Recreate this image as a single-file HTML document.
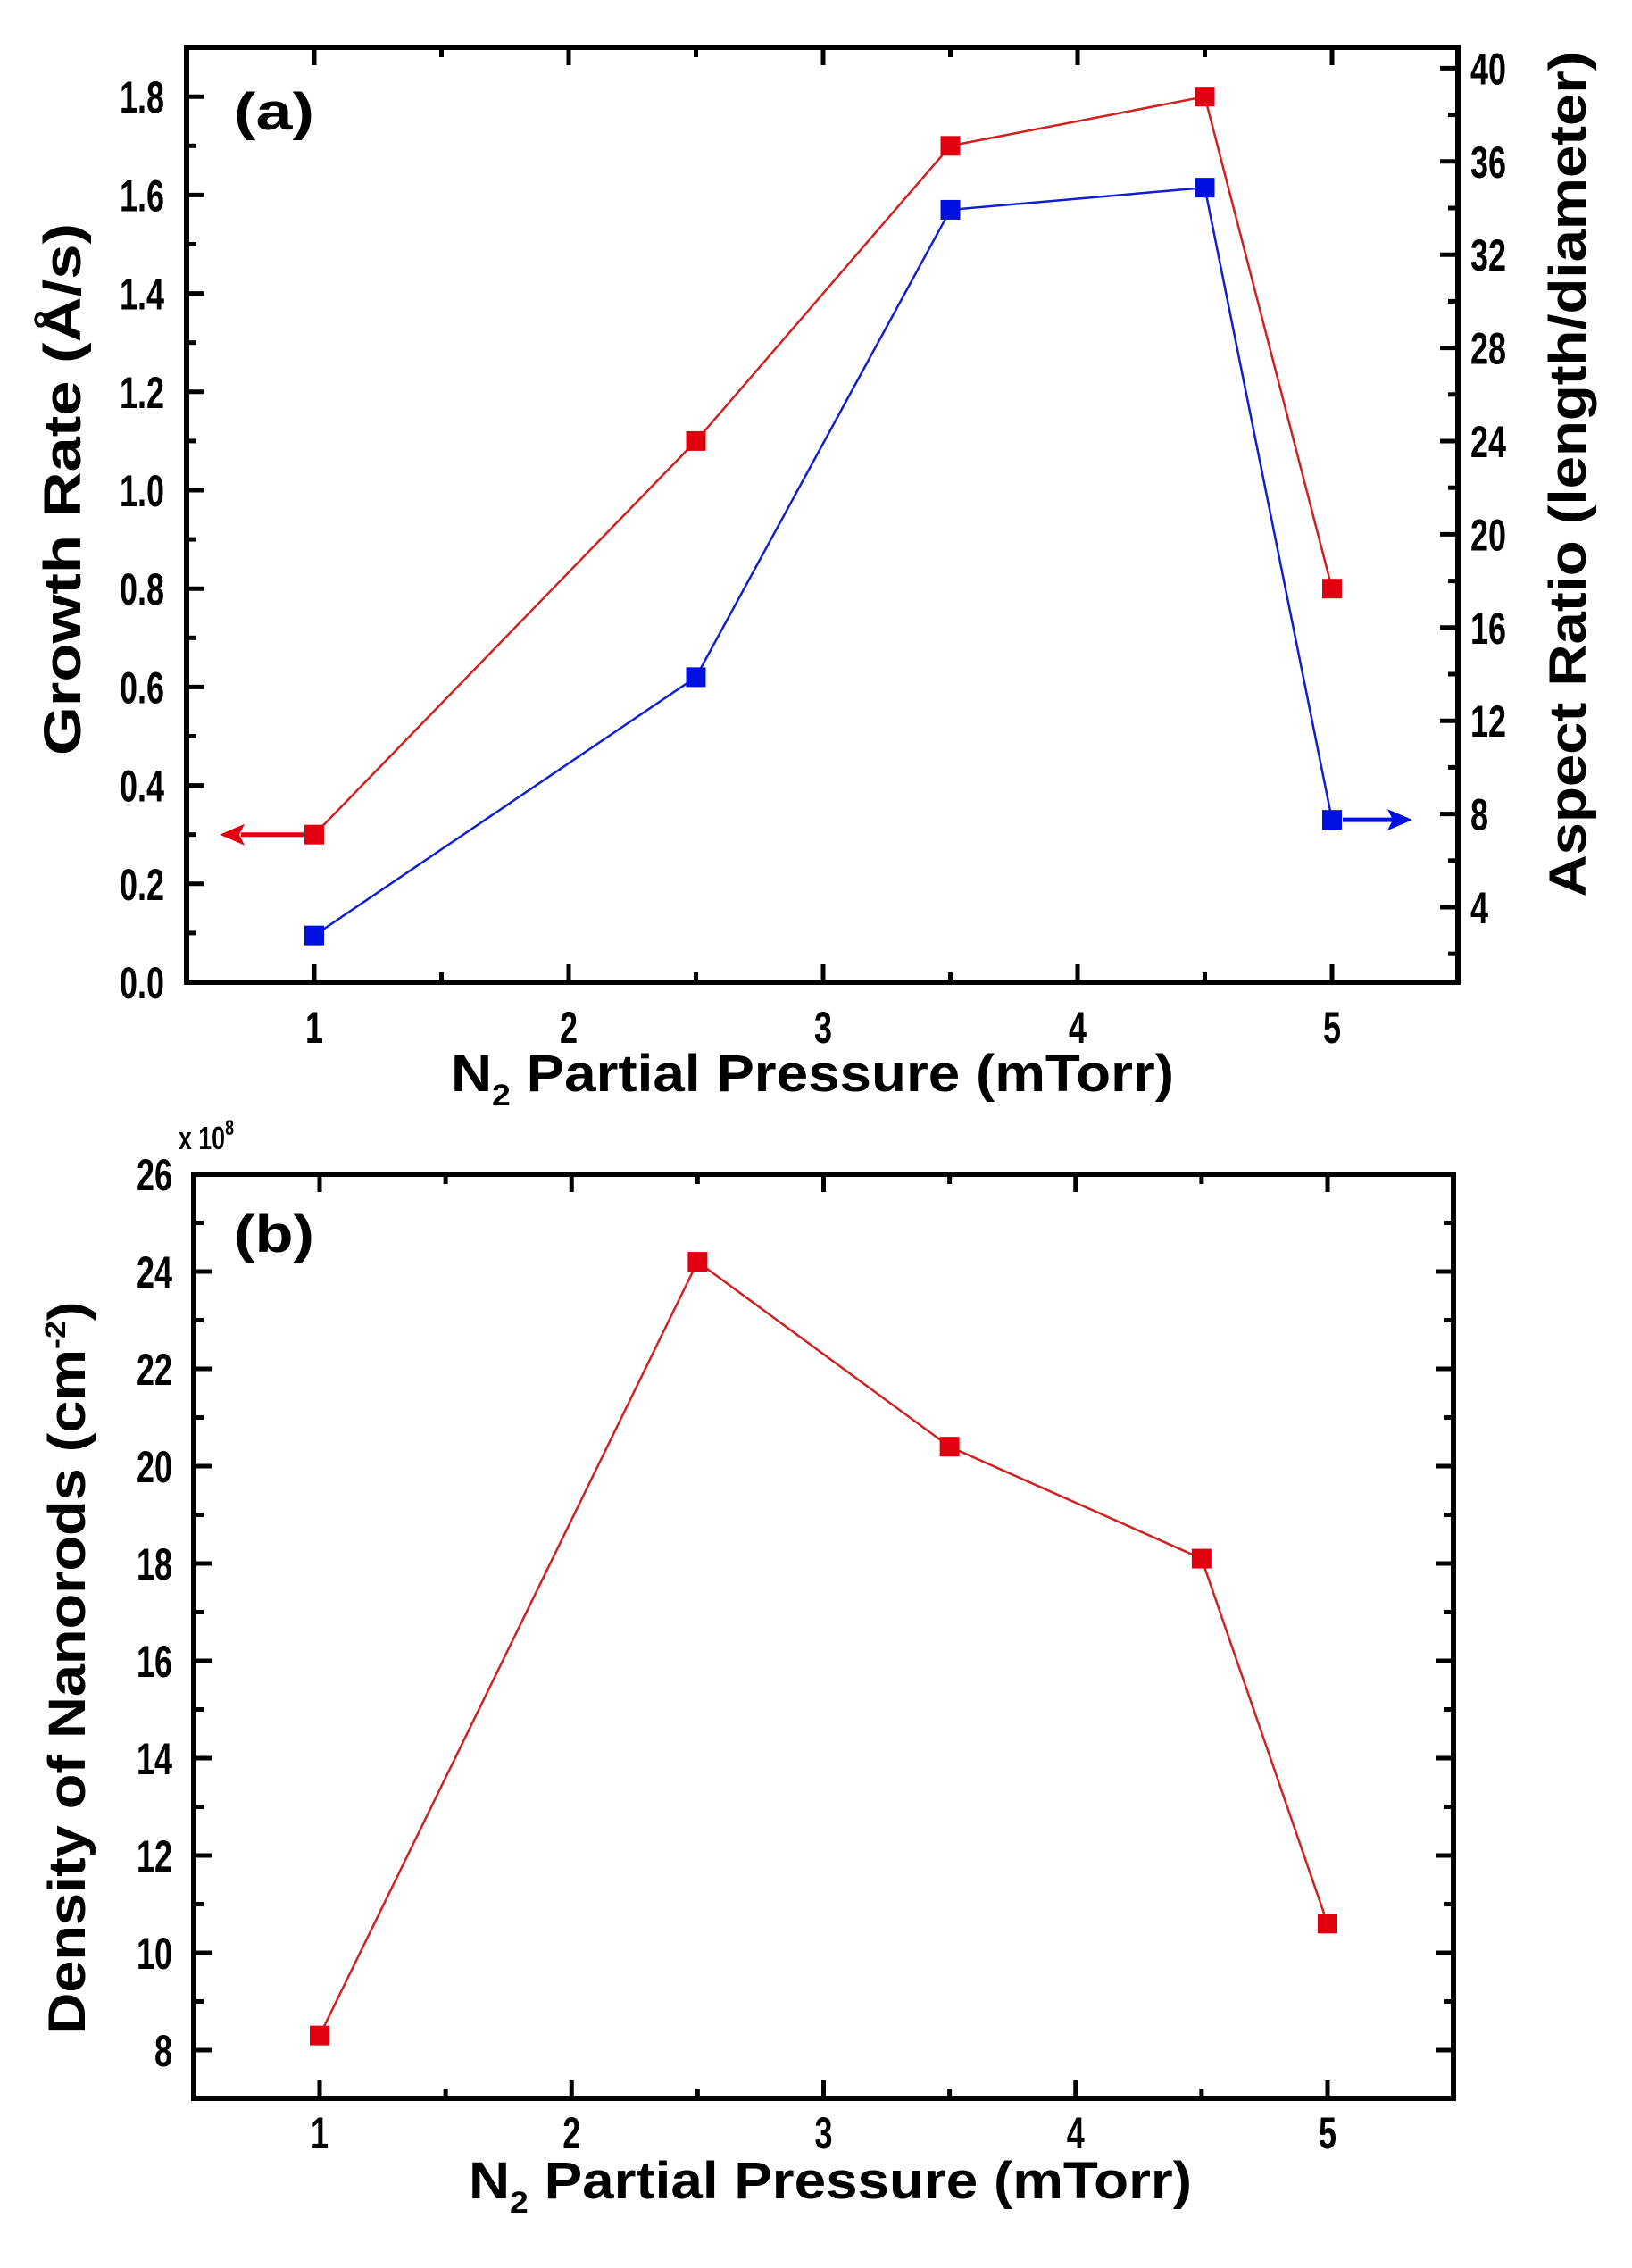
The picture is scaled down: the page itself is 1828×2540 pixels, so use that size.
<!DOCTYPE html>
<html><head><meta charset="utf-8"><style>
html,body{margin:0;padding:0;background:#fff}
svg{display:block}
text{font-family:"Liberation Sans",Arial,sans-serif;font-weight:bold;fill:#000}
</style></head><body>
<svg id="s" width="1828" height="2540" viewBox="0 0 1828 2540" xmlns="http://www.w3.org/2000/svg">
<rect width="1828" height="2540" fill="#fff"/>
<g id="g"></g>
<text x="262" y="145" font-size="58" textLength="90" lengthAdjust="spacingAndGlyphs">(a)</text>
<text x="262" y="1402" font-size="58" textLength="90" lengthAdjust="spacingAndGlyphs">(b)</text>
<text transform="translate(90,548) rotate(-90)" text-anchor="middle" font-size="58" textLength="596" lengthAdjust="spacingAndGlyphs">Growth Rate (Å/s)</text>
<text transform="translate(1776,531) rotate(-90)" text-anchor="middle" font-size="58" textLength="947" lengthAdjust="spacingAndGlyphs">Aspect Ratio (length/diameter)</text>
<text x="505" y="1222" font-size="58" textLength="810" lengthAdjust="spacingAndGlyphs">N<tspan font-size="34" dy="16">2</tspan><tspan dy="-16"> Partial Pressure (mTorr)</tspan></text>
<text x="525" y="2462" font-size="58" textLength="810" lengthAdjust="spacingAndGlyphs">N<tspan font-size="34" dy="16">2</tspan><tspan dy="-16"> Partial Pressure (mTorr)</tspan></text>
<text transform="translate(95,1868) rotate(-90)" text-anchor="middle" font-size="58" textLength="821" lengthAdjust="spacingAndGlyphs">Density of Nanorods (cm<tspan font-size="32" dy="-22">-2</tspan><tspan dy="22">)</tspan></text>
<text x="200" y="1287" font-size="36" font-weight="normal" textLength="62" lengthAdjust="spacingAndGlyphs">x 10<tspan font-size="24" dy="-16">8</tspan></text>
</svg>
<script>
var g=document.getElementById('g');var NS='http://www.w3.org/2000/svg';
function el(t,a,txt,parent){var e=document.createElementNS(NS,t);for(var k in a)e.setAttribute(k,a[k]);if(txt!==undefined)e.textContent=txt;(parent||g).appendChild(e);return e;}
function line(x1,y1,x2,y2,c,w){el('line',{x1:x1,y1:y1,x2:x2,y2:y2,stroke:c||'#000','stroke-width':w||5});}
function txt(x,y,s,anc,fs){var gg=el('g',{transform:'translate('+x+','+y+') scale(0.72,1)'});el('text',{x:0,y:0,'text-anchor':anc,'font-size':fs||50},s,gg);}
var A={L:209,R:1633,T:53,B:1100};
function ax(v){return 352+(v-1)*285;}
function ay(v){return 1100-v*551;}
function ayr(v){return 1016-(v-4)*26.1;}
var Bp={L:217,R:1628,T:1315,B:2350};
function bx(v){return 358+(v-1)*282.25;}
function by(v){return 2296-(v-8)*54.5;}
function frame(P){el('rect',{x:P.L,y:P.T,width:P.R-P.L,height:P.B-P.T,fill:'none',stroke:'#000','stroke-width':6});}
function xticks(P,fx,ylab){
 for(var v=0.5;v<=5.5001;v+=0.5){var x=fx(v);var maj=Math.abs(v-Math.round(v))<0.01;var L=maj?20:11;
  if(v>0.6&&v<5.4){line(x,P.B,x,P.B-L,'#000',5);line(x,P.T,x,P.T+L,'#000',5);}
  if(maj)txt(x,ylab,String(Math.round(v)),'middle',50);}
}
frame(A);xticks(A,ax,1168);
for(var i=0;i<=19;i++){var v=i*0.1;var y=ay(v);var maj=i%2==0;var L=maj?20:11;
 if(i>0)line(A.L,y,A.L+L,y,'#000',5);
 if(maj)txt(184,y+18,v.toFixed(1),'end',50);}
for(var v=2;v<=40;v+=2){var y=ayr(v);var maj=v%4==0;var L=maj?20:11;
 line(A.R,y,A.R-L,y,'#000',5);
 if(maj)txt(1647,y+18,String(v),'start',50);}
frame(Bp);xticks(Bp,bx,2406);
for(var v=8;v<=26;v+=1){var y=by(v);var maj=v%2==0;var L=maj?20:11;
 if(v<26){line(Bp.L,y,Bp.L+L,y,'#000',5);line(Bp.R,y,Bp.R-L,y,'#000',5);}
 if(maj)txt(193,y+18,String(v),'end',50);}
function series(pts,col,lc){var d=pts.map(function(p,i){return (i?'L':'M')+p[0]+' '+p[1];}).join(' ');
 el('path',{d:d,fill:'none',stroke:lc,'stroke-width':2.5});
 pts.forEach(function(p){el('rect',{x:p[0]-11,y:p[1]-11,width:22,height:22,fill:col});});}
var xs=[1,2.5,3.5,4.5,5];
var red=[0.3,1.1,1.7,1.8,0.8],blue=[0.095,0.62,1.57,1.615,0.33],dens=[8.3,24.2,20.4,18.1,10.6];
series(xs.map(function(x,i){return [ax(x),ay(red[i])];}),'#e00010','#d02020');
series(xs.map(function(x,i){return [ax(x),ay(blue[i])];}),'#0010e0','#1020d0');
series(xs.map(function(x,i){return [bx(x),by(dens[i])];}),'#e00010','#d02020');
var yr=ay(0.3),yb=ay(0.33);
line(ax(1)-12,yr,270,yr,'#e00010',5);
el('path',{d:'M 246 '+yr+' L 274 '+(yr-12)+' L 268 '+yr+' L 274 '+(yr+12)+' Z',fill:'#e00010'});
line(ax(5)+12,yb,1560,yb,'#0010e0',5);
el('path',{d:'M 1582 '+yb+' L 1554 '+(yb-12)+' L 1560 '+yb+' L 1554 '+(yb+12)+' Z',fill:'#0010e0'});
</script>
</body></html>
